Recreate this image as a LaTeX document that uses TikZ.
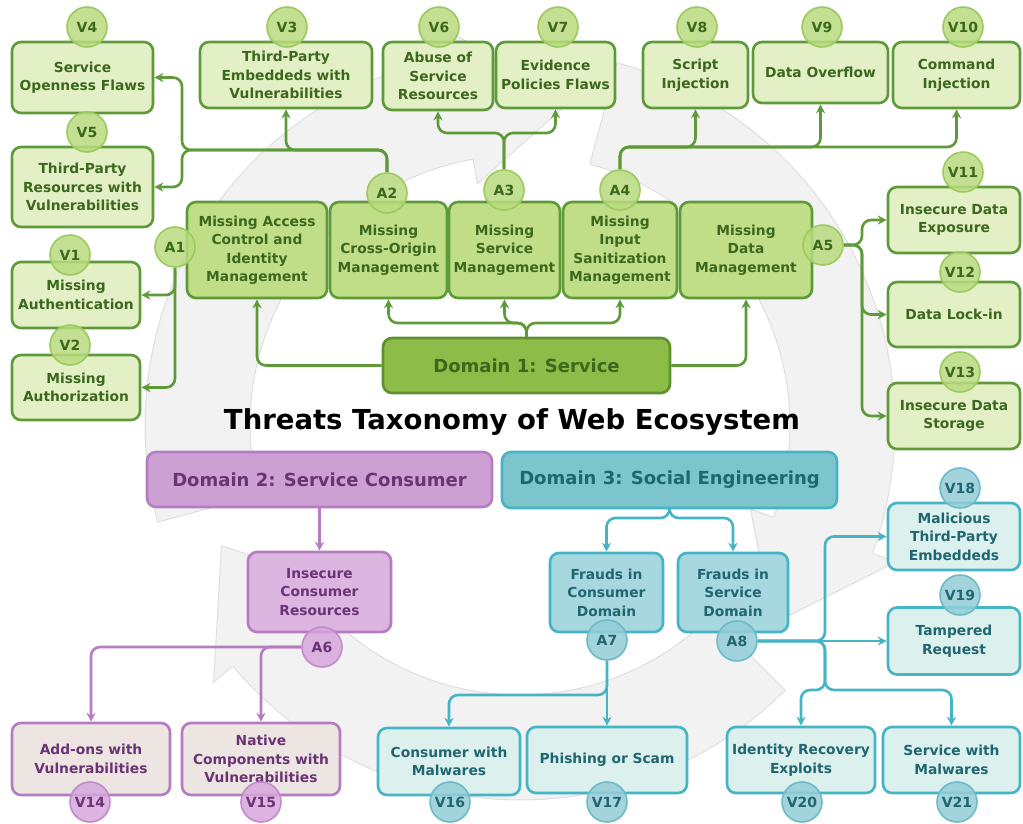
\documentclass[tikz,border=0pt]{standalone}
\usepackage{fontspec}
\setmainfont{DejaVu Sans}
\usetikzlibrary{arrows.meta}
\pgfdeclarelayer{ring}
\pgfdeclarelayer{lines}
\pgfsetlayers{ring,lines,main}
\definecolor{gB}{HTML}{5E9A38}
\definecolor{gV}{HTML}{E3F0C6}
\definecolor{gA}{HTML}{C0DE88}
\definecolor{gD}{HTML}{8EBC48}
\definecolor{gDB}{HTML}{5F902E}
\definecolor{gT}{HTML}{3B681C}
\definecolor{gC}{HTML}{B9DB80}
\definecolor{gCB}{HTML}{9DCA5E}
\definecolor{pB}{HTML}{B67CC1}
\definecolor{pD}{HTML}{CDA0D4}
\definecolor{pA}{HTML}{DCB6E1}
\definecolor{pV}{HTML}{EDE5E1}
\definecolor{pT}{HTML}{6A3373}
\definecolor{pC}{HTML}{D6A6DC}
\definecolor{pCB}{HTML}{C28CCB}
\definecolor{tB}{HTML}{45B4C5}
\definecolor{tD}{HTML}{7CC5CC}
\definecolor{tA}{HTML}{A7D7DF}
\definecolor{tV}{HTML}{DCF0EE}
\definecolor{tT}{HTML}{1F6670}
\definecolor{tC}{HTML}{93CDD7}
\definecolor{tCB}{HTML}{6DBBC8}
\begin{document}
\begin{tikzpicture}[x=1pt,y=-1pt,
  box/.style={draw, line width=2.6pt, rounded corners=9pt, align=center, inner sep=1pt,
    font=\fontsize{13.8}{18.5}\selectfont\bfseries},
  gbox/.style={box, draw=gB, fill=gV, text=gT},
  gabox/.style={box, draw=gB, fill=gA, text=gT},
  gdom/.style={box, draw=gDB, fill=gD, text=gT, font=\fontsize{18}{22}\selectfont\bfseries},
  pbox/.style={box, draw=pB, fill=pV, text=pT},
  pabox/.style={box, draw=pB, fill=pA, text=pT},
  pdom/.style={box, draw=pB, fill=pD, text=pT, font=\fontsize{18}{22}\selectfont\bfseries},
  tbox/.style={box, draw=tB, fill=tV, text=tT},
  tabox/.style={box, draw=tB, fill=tA, text=tT},
  tdom/.style={box, draw=tB, fill=tD, text=tT, font=\fontsize{18}{22}\selectfont\bfseries},
  circ/.style={circle, minimum size=40pt, inner sep=0pt, line width=1.6pt, fill opacity=0.85,
    text opacity=1, font=\fontsize{14}{16}\selectfont\bfseries},
  gcirc/.style={circ, draw=gCB, fill=gC, text=gT},
  pcirc/.style={circ, draw=pCB, fill=pC, text=pT},
  tcirc/.style={circ, draw=tCB, fill=tC, text=tT},
  tip/.style={-{Stealth[length=9pt,width=9pt,inset=3pt]}},
  garr/.style={draw=gB, line width=2.6pt, rounded corners=9pt, tip},
  parr/.style={draw=pB, line width=2.6pt, rounded corners=9pt, tip},
  tarr/.style={draw=tB, line width=2.6pt, rounded corners=9pt, tip},
  bgring/.style={fill=gray!10, draw=gray!25, line width=1pt}
]
\useasboundingbox (0,0) rectangle (1023,823);

\begin{pgfonlayer}{ring}
\fill[white] (0,0) rectangle (1023,823);
\foreach \a in {-75,45,165} {
  \pgfmathsetmacro\b{\a+95}
  \pgfmathsetmacro\c{\a+113}
  \filldraw[bgring] plot[domain=\a:\b,samples=40] ({520+375*cos(\x)},{425+375*sin(\x)})
    -- ({520+400*cos(\b)},{425+400*sin(\b)})
    -- ({520+322*cos(\c)},{425+322*sin(\c)})
    -- ({520+245*cos(\b)},{425+245*sin(\b)})
    -- plot[domain=\b:\a,samples=40] ({520+270*cos(\x)},{425+270*sin(\x)}) -- cycle;
}
\end{pgfonlayer}

% ---------- Domain 1 (green) ----------
\node[gbox, minimum width=141pt, minimum height=71pt] (v4) at (82.5,77.5) {Service\\Openness Flaws};
\node[gbox, minimum width=172pt, minimum height=66pt] (v3) at (286,75) {Third-Party\\Embeddeds with\\Vulnerabilities};
\node[gbox, minimum width=110pt, minimum height=68pt] (v6) at (438,76) {Abuse of\\Service\\Resources};
\node[gbox, minimum width=119pt, minimum height=66pt] (v7) at (555.5,75) {Evidence\\Policies Flaws};
\node[gbox, minimum width=105pt, minimum height=66pt] (v8) at (695.5,75) {Script\\Injection};
\node[gbox, minimum width=135pt, minimum height=61pt] (v9) at (820.5,72.5) {Data Overflow};
\node[gbox, minimum width=127pt, minimum height=66pt] (v10) at (956.5,75) {Command\\Injection};
\node[gbox, minimum width=141pt, minimum height=80pt] (v5) at (82.5,187) {Third-Party\\Resources with\\Vulnerabilities};
\node[gbox, minimum width=128pt, minimum height=66pt] (v1) at (76,295) {Missing\\Authentication};
\node[gbox, minimum width=128pt, minimum height=65pt] (v2) at (76,387.5) {Missing\\Authorization};
\node[gbox, minimum width=132pt, minimum height=66pt] (v11) at (954,220) {Insecure Data\\Exposure};
\node[gbox, minimum width=132pt, minimum height=65pt] (v12) at (954,314.5) {Data Lock-in};
\node[gbox, minimum width=132pt, minimum height=66pt] (v13) at (954,416) {Insecure Data\\Storage};

\node[gabox, minimum width=140pt, minimum height=96pt] (a1) at (257,250) {Missing Access\\Control and\\Identity\\Management};
\node[gabox, minimum width=117pt, minimum height=96pt] (a2) at (388.5,250) {Missing\\Cross-Origin\\Management};
\node[gabox, minimum width=111pt, minimum height=96pt] (a3) at (504.5,250) {Missing\\Service\\Management};
\node[gabox, minimum width=114pt, minimum height=96pt] (a4) at (620,250) {Missing\\Input\\Sanitization\\Management};
\node[gabox, minimum width=132pt, minimum height=96pt] (a5) at (746,250) {Missing\\Data\\Management};
\node[gdom, minimum width=287pt, minimum height=55pt] (d1) at (526.5,365.5) {Domain 1: Service};

\node[font=\fontsize{27.5}{30}\selectfont\bfseries, text=black] (title) at (512,422) {Threats Taxonomy of Web Ecosystem};

% ---------- Domain 2 (purple) ----------
\node[pdom, minimum width=345pt, minimum height=55pt] (d2) at (319.5,479.5) {Domain 2: Service Consumer};
\node[pabox, minimum width=143pt, minimum height=80pt] (a6) at (319.5,592) {Insecure\\Consumer\\Resources};
\node[pbox, minimum width=158pt, minimum height=72pt] (v14) at (91,759) {Add-ons with\\Vulnerabilities};
\node[pbox, minimum width=158pt, minimum height=72pt] (v15) at (261,759) {Native\\Components with\\Vulnerabilities};

% ---------- Domain 3 (teal) ----------
\node[tdom, minimum width=335pt, minimum height=56pt] (d3) at (669.5,480) {Domain 3: Social Engineering};
\node[tabox, minimum width=113pt, minimum height=79pt] (a7) at (606.5,592.5) {Frauds in\\Consumer\\Domain};
\node[tabox, minimum width=110pt, minimum height=79pt] (a8) at (733,592.5) {Frauds in\\Service\\Domain};
\node[tbox, minimum width=142pt, minimum height=67pt] (v16) at (449,761.5) {Consumer with\\Malwares};
\node[tbox, minimum width=160pt, minimum height=66pt] (v17) at (607,760) {Phishing or Scam};
\node[tbox, minimum width=148pt, minimum height=66pt] (v20) at (801,760) {Identity Recovery\\Exploits};
\node[tbox, minimum width=137pt, minimum height=66pt] (v21) at (951.5,760) {Service with\\Malwares};
\node[tbox, minimum width=132pt, minimum height=67pt] (v18) at (954,536.5) {Malicious\\Third-Party\\Embeddeds};
\node[tbox, minimum width=132pt, minimum height=67pt] (v19) at (954,641) {Tampered\\Request};

% ---------- circles ----------
\node[gcirc] (cv4) at (87,27) {V4};
\node[gcirc] (cv3) at (287,27) {V3};
\node[gcirc] (cv6) at (439,27) {V6};
\node[gcirc] (cv7) at (558,27) {V7};
\node[gcirc] (cv8) at (697,27) {V8};
\node[gcirc] (cv9) at (822,27) {V9};
\node[gcirc] (cv10) at (963,27) {V10};
\node[gcirc] (cv5) at (87,132) {V5};
\node[gcirc] (cv1) at (70,255) {V1};
\node[gcirc] (cv2) at (70,345) {V2};
\node[gcirc] (cv11) at (963,172) {V11};
\node[gcirc] (cv12) at (960,272) {V12};
\node[gcirc] (cv13) at (960,372) {V13};
\node[gcirc] (ca1) at (175,247) {A1};
\node[gcirc] (ca2) at (387,193) {A2};
\node[gcirc] (ca3) at (504,190) {A3};
\node[gcirc] (ca4) at (620,190) {A4};
\node[gcirc] (ca5) at (823,245) {A5};
\node[pcirc] (ca6) at (322,647) {A6};
\node[pcirc] (cv14) at (90,802) {V14};
\node[pcirc] (cv15) at (261,802) {V15};
\node[tcirc] (ca7) at (607,640) {A7};
\node[tcirc] (ca8) at (737,641) {A8};
\node[tcirc] (cv16) at (450,802) {V16};
\node[tcirc] (cv17) at (607,802) {V17};
\node[tcirc] (cv20) at (802,802) {V20};
\node[tcirc] (cv21) at (957,802) {V21};
\node[tcirc] (cv18) at (960,488) {V18};
\node[tcirc] (cv19) at (960,595) {V19};

% ---------- connectors (behind the nodes) ----------
\coordinate (j2) at (182,150);
\coordinate (j3) at (504,133);
\coordinate (j4) at (620,147);
\coordinate (j5) at (862,245);
\coordinate (j1) at (526.5,323);
\coordinate (j6) at (669.5,518);
\coordinate (j7) at (607,695);
\coordinate (j8) at (825,641);
\coordinate (j9) at (825,690);

\begin{pgfonlayer}{lines}
\draw[garr] (ca2.north) |- (j2) |- (v4.east);
\draw[garr] (ca2.north) |- (j2) |- (v5.east);
\draw[garr] (ca2.north) |- (v3.south |- j2) -- (v3.south);
\draw[garr] (ca3.north) -- (j3) -| (v6.south);
\draw[garr] (ca3.north) -- (j3) -| (v7.south);
\draw[garr] (ca4.north) -- (j4) -| (v8.south);
\draw[garr] (ca4.north) -- (j4) -| (v9.south);
\draw[garr] (ca4.north) -- (j4) -| (v10.south);
\draw[garr] (ca1.south) |- (v1.east);
\draw[garr] (ca1.south) |- (v2.east);
\draw[garr] (ca5.east) -- (j5) |- (v11.west);
\draw[garr] (ca5.east) -- (j5) |- (v12.west);
\draw[garr] (ca5.east) -- (j5) |- (v13.west);
\draw[garr] (d1.north) -- (j1) -| (a2.south);
\draw[garr] (d1.north) -- (j1) -| (a3.south);
\draw[garr] (d1.north) -- (j1) -| (a4.south);
\draw[garr] (d1.west) -| (a1.south);
\draw[garr] (d1.east) -| (a5.south);

\draw[parr] (d2.south) -- (a6.north);
\draw[parr] (ca6.west) -| (v14.north);
\draw[parr] (ca6.west) -| (v15.north);

\draw[tarr] (d3.south) -- (j6) -| (a7.north);
\draw[tarr] (d3.south) -- (j6) -| (a8.north);
\draw[tarr] (ca7.south) -- (v17.north);
\draw[tarr] (ca7.south) -- (j7) -| (v16.north);
\draw[tarr] (ca8.east) -- (j8) |- (v18.west);
\draw[tarr] (ca8.east) -- (v19.west);
\draw[tarr] (ca8.east) -- (j8) -- (j9) -| (v20.north);
\draw[tarr] (ca8.east) -- (j8) -- (j9) -| (v21.north);
\end{pgfonlayer}
\end{tikzpicture}
\end{document}
